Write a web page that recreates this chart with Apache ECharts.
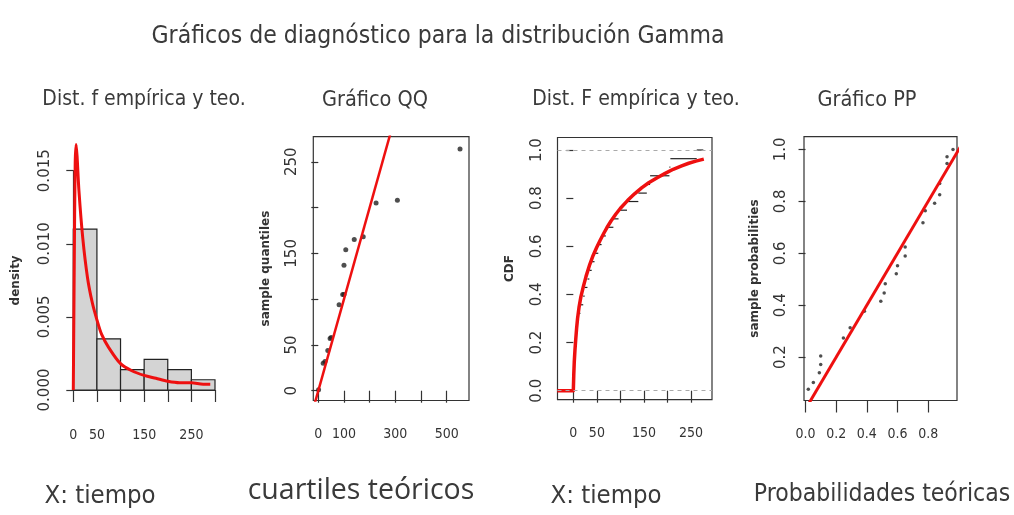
<!DOCTYPE html>
<html>
<head>
<meta charset="utf-8">
<script src="https://cdn.jsdelivr.net/npm/echarts@6/dist/echarts.min.js"></script>
<style>
  html, body { margin: 0; padding: 0; background: #fff; }
  #chart { width: 1014px; height: 515px; }
</style>
</head>
<body>
<div id="chart"></div>
<script>
// histograma + densidad
var histBreaks = [0, 50, 100, 150, 200, 250, 300];
var histDensity = [0.0110, 0.0035, 0.0014, 0.0021, 0.0014, 0.0007];
var densX = [0, 2, 4, 6, 8, 12, 20, 30, 40, 50, 60, 75, 100, 125, 150, 175, 200, 225, 250, 275, 290];
var densY = [0, 0.0085, 0.0155, 0.0168, 0.0160, 0.0136, 0.0104, 0.0077, 0.0060, 0.0048, 0.0038, 0.0029, 0.0018, 0.0013, 0.0010, 0.0008, 0.0006, 0.0005, 0.0005, 0.0004, 0.0004];
var histXTicks = [0, 50, 100, 150, 200, 250, 300];
var histXLabels = [0, 50, 150, 250];
var histYTicks = [0, 0.005, 0.010, 0.015];

// grafico QQ
var qqTheo = [1, 19, 26, 37, 46, 50, 81, 95, 100, 100, 107, 140, 175, 225, 308, 552];
var qqSample = [1, 30, 32, 44, 57, 58, 94, 105, 105, 137, 154, 165, 168, 205, 208, 264];
var qqRefLine = [-50, 650];
var qqXTicks = [0, 100, 200, 300, 400, 500];
var qqXLabels = [0, 100, 300, 500];
var qqYTicks = [0, 50, 100, 150, 200, 250];
var qqYLabels = [0, 50, 150, 250];

// distribucion acumulada
var ecdfX = [0.5, 1, 1.5, 2, 3, 4, 6, 8, 10, 15, 21, 24, 30, 34, 39, 45, 53, 60, 69, 85, 96, 114, 138, 156, 163, 204, 206, 262];
var ecdfF = [0.036, 0.071, 0.107, 0.143, 0.179, 0.214, 0.25, 0.286, 0.321, 0.357, 0.393, 0.429, 0.464, 0.5, 0.536, 0.571, 0.607, 0.643, 0.679, 0.714, 0.75, 0.786, 0.821, 0.857, 0.893, 0.929, 0.964, 1.0];
var ecdfEnd = 276;
var cdfX = [-34, 0, 1, 2, 3.5, 5, 7, 9, 12, 16, 21, 27, 35, 42, 50, 57, 65, 72, 80, 90, 100, 115, 130, 145, 160, 178, 195, 212, 230, 245, 260, 277];
var cdfY = [0, 0, 0.07, 0.12, 0.17, 0.21, 0.26, 0.30, 0.345, 0.39, 0.43, 0.475, 0.525, 0.562, 0.597, 0.625, 0.655, 0.68, 0.705, 0.733, 0.758, 0.79, 0.818, 0.843, 0.864, 0.885, 0.903, 0.92, 0.934, 0.945, 0.954, 0.962];
var cdfLevels = [0, 1];
var cdfXTicks = [0, 50, 100, 150, 200, 250];
var cdfXLabels = [0, 50, 150, 250];
var cdfYTicks = [0, 0.2, 0.4, 0.6, 0.8, 1.0];

// grafico PP
var ppTheo = [0.018, 0.051, 0.09, 0.099, 0.099, 0.247, 0.291, 0.384, 0.491, 0.513, 0.52, 0.592, 0.6, 0.65, 0.65, 0.766, 0.781, 0.842, 0.875, 0.875, 0.923, 0.923, 0.962];
var ppEmp = [0.076, 0.102, 0.14, 0.172, 0.204, 0.274, 0.313, 0.377, 0.415, 0.447, 0.483, 0.521, 0.552, 0.59, 0.624, 0.718, 0.764, 0.793, 0.825, 0.869, 0.946, 0.972, 1.0];
var ppRefLine = [-0.1, 1.1];
var ppXTicks = [0, 0.2, 0.4, 0.6, 0.8];
var ppYTicks = [0.2, 0.4, 0.6, 0.8, 1.0];

var narrow = "'Liberation Sans Narrow', 'DejaVu Sans Condensed', sans-serif";
var tickFont = "'DejaVu Sans', sans-serif";
var ink = '#333';
var red = '#ee1010';

function xAx(grid, min, max, ticks, labels, fmt, opt) {
    opt = opt || {};
    return {
        type: 'value', gridIndex: grid, min: min, max: max,
        offset: opt.offset || 0,
        axisLine: { show: !!opt.line, lineStyle: { color: ink, width: 1.2 } },
        axisTick: { show: true, length: 12, customValues: ticks, lineStyle: { color: ink, width: 1.2 } },
        axisLabel: { customValues: labels, margin: 27, color: ink, fontFamily: narrow, fontSize: 14,
                     formatter: fmt },
        splitLine: { show: false }
    };
}
function yAx(grid, min, max, ticks, labels, fmt, name, margin, gap, opt) {
    opt = opt || {};
    return {
        type: 'value', gridIndex: grid, min: min, max: max,
        offset: opt.offset || 0,
        name: name, nameLocation: 'middle', nameGap: gap,
        nameTextStyle: { color: ink, fontFamily: tickFont, fontSize: 12, fontWeight: 'bold' },
        axisLine: { show: !!opt.line, lineStyle: { color: ink, width: 1.2 } },
        axisTick: { show: true, length: 7, customValues: ticks, lineStyle: { color: ink, width: 1.2 } },
        axisLabel: { customValues: labels, rotate: 90, margin: margin, color: ink, fontFamily: tickFont,
                     fontSize: 15, formatter: fmt },
        splitLine: { show: false }
    };
}
var f0 = function (v) { return String(Math.round(v)); };
var f1 = function (v) { return v.toFixed(1); };
var f3 = function (v) { return v.toFixed(3); };

function txt(s, x, y, size, family, align) {
    return {
        text: s, left: x, top: y, textAlign: align || 'left',
        textStyle: { color: '#3a3a3a', fontSize: size, fontFamily: family || narrow, fontWeight: 'normal' }
    };
}

var chart = echarts.init(document.getElementById('chart'));
var option = {
    animation: false,
    title: [
        txt('Gráficos de diagnóstico para la distribución Gamma', 433, 19, 24.5, narrow, 'center'),
        txt('Dist. f empírica y teo.', 139, 84, 21, narrow, 'center'),
        txt('Gráfico QQ', 370, 84, 21.5, narrow, 'center'),
        txt('Dist. F empírica y teo.', 631, 84, 21, narrow, 'center'),
        txt('Gráfico PP', 862, 84, 21.5, narrow, 'center'),
        txt('X: tiempo', 95, 478, 25.5, narrow, 'center'),
        txt('cuartiles teóricos', 356, 471, 28.5, "'Open Sans', sans-serif", 'center'),
        txt('X: tiempo', 601, 478, 25.5, narrow, 'center'),
        txt('Probabilidades teóricas', 877, 477, 24.5, narrow, 'center')
    ],
    grid: [
        { left: 73.3, top: 170.7, width: 141.7, height: 219.3, show: false },
        { left: 313.3, top: 136.7, width: 155.7, height: 263.8, show: true, borderColor: ink, borderWidth: 1.2 },
        { left: 557.5, top: 137.5, width: 154.5, height: 262.2, show: true, borderColor: ink, borderWidth: 1.2 },
        { left: 804, top: 136.7, width: 153, height: 263.8, show: true, borderColor: ink, borderWidth: 1.2 }
    ],
    xAxis: [
        xAx(0, 0, 300, histXTicks, histXLabels, f0, { line: true, offset: 11.7 }),
        xAx(1, -19.5, 587, qqXTicks, qqXLabels, f0),
        xAx(2, -33.6, 294.4, cdfXTicks, cdfXLabels, f0),
        xAx(3, -0.01, 0.988, ppXTicks, ppXTicks, f1)
    ],
    yAxis: [
        yAx(0, 0, 0.015, histYTicks, histYTicks, f3, 'density', 11, 41, { line: true, offset: 10 }),
        yAx(1, -10.7, 277.4, qqYTicks, qqYLabels, f0, 'sample quantiles', 14, 41),
        yAx(2, -0.0374, 1.052, cdfYTicks, cdfYTicks, f1, 'CDF', 13, 42),
        yAx(3, 0.033, 1.049, ppYTicks, ppYTicks, f1, 'sample probabilities', 15, 43)
    ],
    series: [
        {
            type: 'custom', xAxisIndex: 0, yAxisIndex: 0,
            data: histDensity.map(function (d, i) { return [histBreaks[i], histBreaks[i + 1], d]; }),
            encode: { x: [0, 1], y: 2 },
            renderItem: function (params, api) {
                var p0 = api.coord([api.value(0), 0]);
                var p1 = api.coord([api.value(1), api.value(2)]);
                return {
                    type: 'rect',
                    shape: { x: p0[0], y: p1[1], width: p1[0] - p0[0], height: p0[1] - p1[1] },
                    style: { fill: '#d4d4d4', stroke: '#222', lineWidth: 1.2 }
                };
            }
        },
        {
            type: 'line', xAxisIndex: 0, yAxisIndex: 0, clip: false,
            data: densX.map(function (x, i) { return [x, densY[i]]; }),
            smooth: 0.3, showSymbol: false,
            lineStyle: { color: red, width: 3 }
        },
        {
            type: 'line', xAxisIndex: 1, yAxisIndex: 1,
            data: qqRefLine.map(function (v) { return [v, v]; }),
            showSymbol: false, lineStyle: { color: red, width: 2.5 }
        },
        {
            type: 'scatter', xAxisIndex: 1, yAxisIndex: 1,
            data: qqTheo.map(function (x, i) { return [x, qqSample[i]]; }),
            symbolSize: 5, itemStyle: { color: '#222' }
        },
        {
            type: 'line', xAxisIndex: 2, yAxisIndex: 2,
            data: cdfX.map(function (x, i) { return [x, cdfY[i]]; }),
            smooth: false, showSymbol: false,
            lineStyle: { color: red, width: 3.5, join: 'round' },
            markLine: {
                silent: true, symbol: 'none', label: { show: false },
                lineStyle: { color: '#aaa', type: [4, 4], width: 1 },
                data: cdfLevels.map(function (v) { return { yAxis: v }; })
            }
        },
        {
            type: 'custom', xAxisIndex: 2, yAxisIndex: 2,
            data: ecdfX.map(function (x, i) {
                return [x, i + 1 < ecdfX.length ? ecdfX[i + 1] : ecdfEnd, ecdfF[i]];
            }),
            encode: { x: [0, 1], y: 2 },
            renderItem: function (params, api) {
                var a = api.coord([api.value(0), api.value(2)]);
                var b = api.coord([api.value(1), api.value(2)]);
                return {
                    type: 'line',
                    shape: { x1: a[0], y1: a[1], x2: b[0], y2: b[1] },
                    style: { stroke: '#222', lineWidth: 1.2 }
                };
            }
        },
        {
            type: 'line', xAxisIndex: 3, yAxisIndex: 3,
            data: ppRefLine.map(function (v) { return [v, v]; }),
            showSymbol: false, lineStyle: { color: red, width: 3 }
        },
        {
            type: 'scatter', xAxisIndex: 3, yAxisIndex: 3,
            data: ppTheo.map(function (x, i) { return [x, ppEmp[i]]; }),
            symbolSize: 3.5, itemStyle: { color: '#222' }
        }
    ]
};
chart.setOption(option);
window.addEventListener('resize', function () { chart.resize(); });
</script>
</body>
</html>
